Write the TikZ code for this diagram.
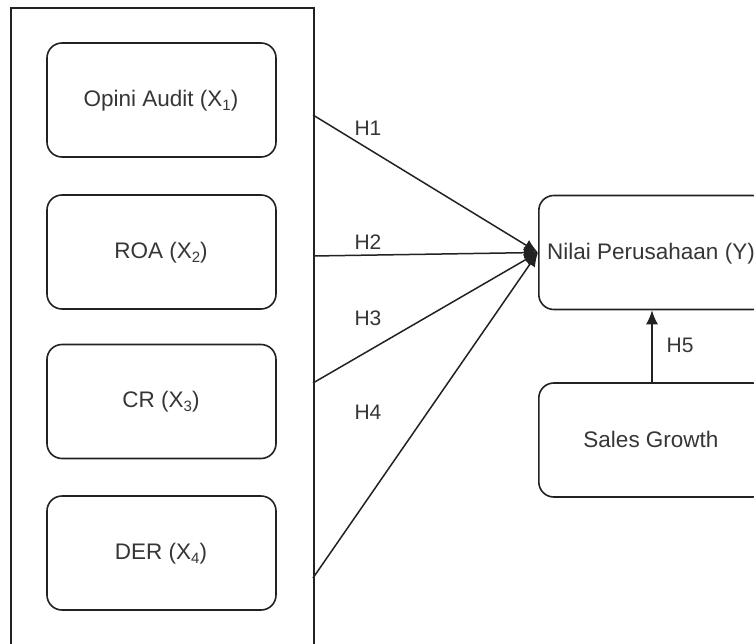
\documentclass[tikz,border=0pt]{standalone}
\usepackage{fontspec}
\setmainfont{Liberation Sans}
\usetikzlibrary{arrows.meta}
\definecolor{txt}{HTML}{363636}
\definecolor{ln}{HTML}{222222}
\newcommand{\sbx}[1]{\raisebox{-0.35ex}{\fontsize{15}{15}\selectfont #1}}
\begin{document}
\begin{tikzpicture}[x=1pt,y=-1pt,
  rbox/.style={draw=ln,line width=1.6pt,rounded corners=15pt,minimum width=229pt,minimum height=114pt,inner sep=0pt},
  lbl/.style={text=txt,font=\fontsize{21}{24}\selectfont,inner sep=0pt},
  big/.style={text=txt,font=\fontsize{22.5}{26}\selectfont,inner sep=0pt},
  conn/.style={draw=ln,line width=1.5pt,-{Latex[length=14pt,width=12pt]}}]
\clip (0,0) rectangle (754,644);
\fill[white] (0,0) rectangle (754,644);
\node[draw=ln,line width=1.6pt,minimum width=303pt,minimum height=680pt,inner sep=0pt,anchor=north west] (outer) at (10,7) {};
\node[rbox] (x1) at (161.5,100) {};
\node[rbox] (x2) at (161.5,252) {};
\node[rbox] (x3) at (161.5,401.5) {};
\node[rbox] (x4) at (161.5,553) {};
\node[big] at (161,101) {Opini Audit (X\sbx{1})};
\node[big] at (161,253) {ROA (X\sbx{2})};
\node[big] at (161,402) {CR (X\sbx{3})};
\node[big] at (161,554) {DER (X\sbx{4})};
\node[rbox,anchor=west] (y) at (538,252.5) {};
\node[rbox,anchor=west] (sg) at (538,440) {};
\node[big] at (651,254) {Nilai Perusahaan (Y)};
\node[big] at (651,439) {Sales Growth};
\coordinate (s1) at (313,115);
\coordinate (s2) at (313,256);
\coordinate (s3) at (313,383);
\coordinate (s4) at (313,578);
\draw[conn] (s1) -- (y.west);
\draw[conn] (s2) -- (y.west);
\draw[conn] (s3) -- (y.west);
\draw[conn] (s4) -- (y.west);
\draw[conn] (sg.north -| 652,0) -- (y.south -| 652,0);
\node[lbl] (h1) at (368,128) {H1};
\node[lbl] (h2) at (368,242) {H2};
\node[lbl] (h3) at (368,318) {H3};
\node[lbl] (h4) at (368,412) {H4};
\node[lbl] (h5) at (680,345) {H5};
\end{tikzpicture}
\end{document}
